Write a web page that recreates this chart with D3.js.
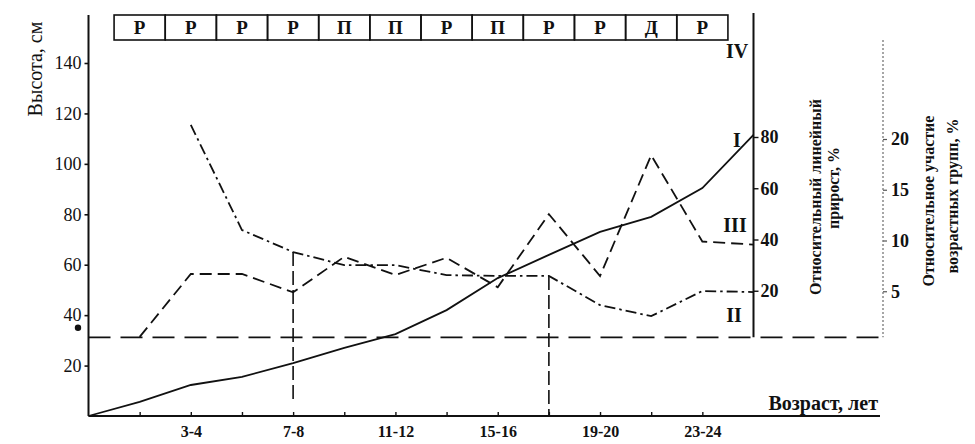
<!DOCTYPE html>
<html>
<head>
<meta charset="utf-8">
<script src="https://cdn.jsdelivr.net/npm/d3@7"></script>
<style>
  html, body { margin: 0; padding: 0; background: #fff; }
  svg { display: block; }
  text { font-family: "Liberation Serif", "DejaVu Serif", serif; fill: #111; }
</style>
</head>
<body>
<svg id="chart" width="975" height="444"></svg>
<script>
// ---- data ----
const stageIndex = [1,2,3,4,5,6,7,8,9,10,11,12];
const stageLabels = ["Р","Р","Р","Р","П","П","Р","П","Р","Р","Д","Р"];

const ageIndex = [0,1,2,3,4,5,6,7,8,9,10,11,12,13];
const heightCm = [0, 5.6, 12.3, 15.5, 21, 27, 32.5, 42, 54.7, 63.9, 73, 79, 90.4, 111.5];           // I

const growthIndex = [2,3,4,5,6,7,8,9,10,11,12,13];
const linearGrowth = [84.7, 43.7, 35.1, 30, 30, 26.1, 25.8, 25.8, 14.4, 10.1, 19.9, 19.5];           // II

const shareIndex = [1,2,3,4,5,6,7,8,9,10,11,12,13];
const groupShare = [0.5, 6.7, 6.7, 4.9, 8.4, 6.6, 8.3, 5.4, 12.6, 6.5, 18.4, 9.9, 9.6];             // III

const xTickIndex = [1,2,3,4,5,6,7,8,9,10,11,12];
const xTickLabels = {2:"3-4", 4:"7-8", 6:"11-12", 8:"15-16", 10:"19-20", 12:"23-24"};
const leftTicks = [20,40,60,80,100,120,140];
const rightTicks = [20,40,60,80];
const shareTicks = [5,10,15,20];
const baselineLevel = 31.2;   // horizontal dashed reference, cm
const markerA = {i:4, bottom:6.3};
const markerB = {i:9, bottom:0};

// ---- scales ----
const svg = d3.select("#chart");
const x = d3.scaleLinear().domain([0,13]).range([88.5, 753.5]);
const yL = d3.scaleLinear().domain([0,140]).range([416, 63]);
const yR = d3.scaleLinear().domain([0,80]).range([342, 137]);
const yS = d3.scaleLinear().domain([0,20]).range([342, 139]);

const xEnd = 880, yTop = 15;

// ---- axes ----
// left axis
const gL = svg.append("g").attr("transform", `translate(${x(0)},0)`)
  .call(d3.axisLeft(yL).tickValues(leftTicks).tickSize(4).tickPadding(3).tickFormat(d3.format("d")));
gL.select(".domain").remove();
gL.selectAll(".tick line").attr("stroke", "#111").attr("stroke-width", 1.6);
gL.selectAll(".tick text").style("font-size", "18px").style("font-family", "Liberation Serif").attr("fill", "#111");
svg.append("line").attr("x1", x(0)).attr("x2", x(0)).attr("y1", yTop).attr("y2", yL(0))
  .attr("stroke", "#111").attr("stroke-width", 2);

// bottom axis
const gB = svg.append("g").attr("transform", `translate(0,${yL(0)})`)
  .call(d3.axisBottom(x).tickValues(xTickIndex).tickSize(-4).tickPadding(10).tickFormat(d => xTickLabels[d] || ""));
gB.select(".domain").remove();
gB.selectAll(".tick line").attr("stroke", "#111").attr("stroke-width", 1.4);
gB.selectAll(".tick text").style("font-size", "16px").style("font-weight", "bold").style("font-family", "Liberation Serif").attr("fill", "#111");
svg.append("line").attr("x1", x(0)).attr("x2", xEnd).attr("y1", yL(0)).attr("y2", yL(0))
  .attr("stroke", "#111").attr("stroke-width", 2);

// right axis (II)
const gR = svg.append("g").attr("transform", `translate(${x(13)},0)`)
  .call(d3.axisRight(yR).tickValues(rightTicks).tickSize(5).tickPadding(2).tickFormat(d3.format("d")));
gR.select(".domain").remove();
gR.selectAll(".tick line").attr("stroke", "#111").attr("stroke-width", 1.4);
gR.selectAll(".tick text").style("font-size", "18px").style("font-weight", "bold").style("font-family", "Liberation Serif").attr("fill", "#111");
svg.append("line").attr("x1", x(13)).attr("x2", x(13)).attr("y1", 13).attr("y2", yL(baselineLevel))
  .attr("stroke", "#111").attr("stroke-width", 2);

// third axis (III)
const xS = 883;
const gS = svg.append("g").attr("transform", `translate(${xS},0)`)
  .call(d3.axisRight(yS).tickValues(shareTicks).tickSize(4).tickPadding(4).tickFormat(d3.format("d")));
gS.select(".domain").remove();
gS.selectAll(".tick line").attr("stroke", "#555").attr("stroke-width", 1.2);
gS.selectAll(".tick text").style("font-size", "18px").style("font-weight", "bold").style("font-family", "Liberation Serif").attr("fill", "#222");
svg.append("line").attr("x1", xS).attr("x2", xS).attr("y1", 40).attr("y2", yL(baselineLevel))
  .attr("stroke", "#777").attr("stroke-width", 1.3).attr("stroke-dasharray", "2,2");

// ---- stage boxes ----
const boxes = svg.append("g");
boxes.selectAll("rect").data(stageIndex).join("rect")
  .attr("x", d => x(d - 0.5)).attr("width", d => x(d + 0.5) - x(d - 0.5))
  .attr("y", 15).attr("height", 25)
  .attr("fill", "none").attr("stroke", "#111").attr("stroke-width", 1.6);
boxes.selectAll("text").data(stageIndex).join("text")
  .attr("x", d => x(d)).attr("y", 34).attr("text-anchor", "middle")
  .style("font-size", "19px").style("font-weight", "bold")
  .text((d, i) => stageLabels[i]);

// ---- reference dashed lines ----
svg.append("line").attr("x1", x(0)).attr("x2", xS).attr("y1", yL(baselineLevel)).attr("y2", yL(baselineLevel))
  .attr("stroke", "#111").attr("stroke-width", 1.6).attr("stroke-dasharray", "22,10");
[markerA, markerB].forEach(m => {
  const gi = growthIndex.indexOf(m.i);
  svg.append("line").attr("x1", x(m.i)).attr("x2", x(m.i))
    .attr("y1", yR(linearGrowth[gi])).attr("y2", yL(m.bottom))
    .attr("stroke", "#111").attr("stroke-width", 1.6).attr("stroke-dasharray", "14,5");
});
svg.append("circle").attr("cx", 78).attr("cy", yL(35)).attr("r", 3.2).attr("fill", "#111");

// ---- series lines ----
const line = d3.line();
svg.append("path")
  .attr("d", line(ageIndex.map((d, i) => [x(d), yL(heightCm[i])])))
  .attr("fill", "none").attr("stroke", "#111").attr("stroke-width", 1.8);
svg.append("path")
  .attr("d", line(growthIndex.map((d, i) => [x(d), yR(linearGrowth[i])])))
  .attr("fill", "none").attr("stroke", "#111").attr("stroke-width", 1.8)
  .attr("stroke-dasharray", "11,4,2.5,4");
svg.append("path")
  .attr("d", line(shareIndex.map((d, i) => [x(d), yS(groupShare[i])])))
  .attr("fill", "none").attr("stroke", "#111").attr("stroke-width", 1.8)
  .attr("stroke-dasharray", "12,6");

// ---- series labels ----
const lab = (t, xx, yy) => svg.append("text").attr("x", xx).attr("y", yy).attr("text-anchor", "middle")
  .style("font-size", "20px").style("font-weight", "bold").text(t);
lab("IV", 737, 58);
lab("I", 737, 147);
lab("III", 735, 232);
lab("II", 734, 322);

// ---- axis titles ----
svg.append("text").attr("transform", "translate(42,69) rotate(-90)").attr("text-anchor", "middle")
  .style("font-size", "20px").text("Высота, см");
svg.append("text").attr("x", 878).attr("y", 410).attr("text-anchor", "end")
  .style("font-size", "20px").style("font-weight", "bold").text("Возраст, лет");
svg.append("text").attr("transform", "translate(821,197) rotate(-90)").attr("text-anchor", "middle")
  .style("font-size", "16px").style("font-weight", "bold").text("Относительный линейный");
svg.append("text").attr("transform", "translate(839,188) rotate(-90)").attr("text-anchor", "middle")
  .style("font-size", "16px").style("font-weight", "bold").text("прирост, %");
svg.append("text").attr("transform", "translate(934,201) rotate(-90)").attr("text-anchor", "middle")
  .style("font-size", "16px").style("font-weight", "bold").text("Относительное участие");
svg.append("text").attr("transform", "translate(958,196) rotate(-90)").attr("text-anchor", "middle")
  .style("font-size", "16px").style("font-weight", "bold").text("возрастных групп, %");
</script>
</body>
</html>
